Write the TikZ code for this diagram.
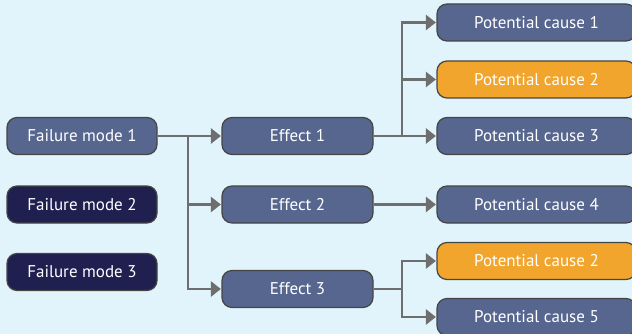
\documentclass[tikz,border=0pt]{standalone}
\usepackage{fontspec}
\setmainfont{PT Sans}
\usetikzlibrary{arrows.meta}
\definecolor{bgblue}{HTML}{E1F3FB}
\definecolor{slate}{HTML}{56668E}
\definecolor{navy}{HTML}{1F1F50}
\definecolor{amber}{HTML}{F2A52C}
\definecolor{edge}{HTML}{454545}
\definecolor{wire}{HTML}{6E6E6E}
\begin{document}
\begin{tikzpicture}[x=1pt,y=-1pt,
  box/.style={draw=edge, line width=1.2pt, rounded corners=10pt, text=white,
    minimum height=37pt, inner sep=0pt, font=\fontsize{17}{20}\selectfont},
  modebox/.style={box, minimum width=150pt},
  effbox/.style={box, fill=slate, minimum width=151pt},
  causebox/.style={box, minimum width=199pt},
  conn/.style={draw=wire, line width=2.5pt,
    -{Triangle[length=10pt,width=15pt]}, shorten >=0.5pt}]
  % page and background
  \fill[bgblue] (0,0) rectangle (632,334);
  \clip (0,0) rectangle (632,334);

  % failure modes
  \node[modebox, fill=slate] (fm1) at (82,136) {Failure mode 1};
  \node[modebox, fill=navy]  (fm2) at (82,204.5) {Failure mode 2};
  \node[modebox, fill=navy]  (fm3) at (82,272) {Failure mode 3};

  % effects
  \node[effbox] (e1) at (297.5,136) {Effect 1};
  \node[effbox] (e2) at (297.5,204.5) {Effect 2};
  \node[effbox] (e3) at (297.5,289) {Effect 3};

  % potential causes
  \node[causebox, fill=slate] (pc1)  at (536.5,22.5) {Potential cause 1};
  \node[causebox, fill=amber] (pc2)  at (536.5,79.5) {Potential cause 2};
  \node[causebox, fill=slate] (pc3)  at (536.5,136)  {Potential cause 3};
  \node[causebox, fill=slate] (pc4)  at (536.5,204.5) {Potential cause 4};
  \node[causebox, fill=amber] (pc2b) at (536.5,261)  {Potential cause 2};
  \node[causebox, fill=slate] (pc5)  at (536.5,317)  {Potential cause 5};

  % branch points
  \coordinate (j1) at (188,136);
  \coordinate (j2) at (402,136);
  \coordinate (j3) at (402,289);

  % failure mode 1 -> effects
  \draw[conn] (fm1) -- (e1);
  \draw[conn] (j1) |- (e2);
  \draw[conn] (j1) |- (e3);

  % effect 1 -> causes
  \draw[conn] (e1) -- (pc3);
  \draw[conn] (j2) |- (pc1);
  \draw[conn] (j2) |- (pc2);

  % effect 2 -> cause
  \draw[conn] (e2) -- (pc4);

  % effect 3 -> causes
  \draw[draw=wire, line width=2.5pt] (e3) -- (j3);
  \draw[conn] (j3) |- (pc2b);
  \draw[conn] (j3) |- (pc5);
\end{tikzpicture}
\end{document}
